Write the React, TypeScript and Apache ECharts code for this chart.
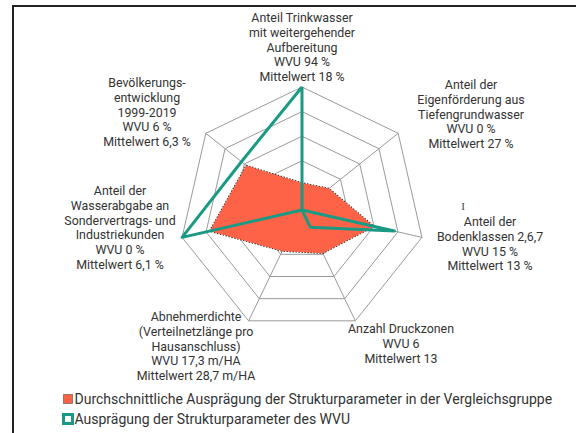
import React, { useEffect, useRef } from "react";
import * as echarts from "echarts";

// Indicators listed clockwise starting at the top
const indicatorNames = [
  "Trinkwasser",
  "Eigenförderung",
  "Bodenklassen",
  "Druckzonen",
  "Abnehmerdichte",
  "Sondervertrag",
  "Bevölkerung",
];
const indicatorLabels = [
  "Anteil Trinkwasser\nmit weitergehender\nAufbereitung\nWVU 94 %\nMittelwert 18 %",
  "Anteil der\nEigenförderung aus\nTiefengrundwasser\nWVU 0 %\nMittelwert 27 %",
  "Anteil der\nBodenklassen 2,6,7\nWVU 15 %\nMittelwert 13 %",
  "Anzahl Druckzonen\nWVU 6\nMittelwert 13",
  "Abnehmerdichte\n(Verteilnetzlänge pro\nHausanschluss)\nWVU 17,3 m/HA\nMittelwert 28,7 m/HA",
  "Anteil der\nWasserabgabe an\nSondervertrags- und\nIndustriekunden\nWVU 0 %\nMittelwert 6,1 %",
  "Bevölkerungs-\nentwicklung\n1999-2019\nWVU 6 %\nMittelwert 6,3 %",
];
// normalized values (0..1), clockwise from top
const groupAverage = [0.22, 0.28, 0.6, 0.39, 0.37, 0.77, 0.58];
const wvuValues = [1.0, 0, 0.77, 0.155, 0, 1.0, 0.63];
const seriesNames = [
  "Durchschnittliche Ausprägung der Strukturparameter in der Vergleichsgruppe",
  "Ausprägung der Strukturparameter des WVU",
];
// label anchor positions (centre x, first line y)
const labelPos: [number, number][] = [
  [302, 17],
  [471, 84],
  [490, 221],
  [401, 328],
  [196, 316],
  [120, 190],
  [147, 82],
];

const RED = "#ff6347";
const TEAL = "#1a9a84";

// ECharts places radar indicators counter-clockwise; reorder
const order = [0, 6, 5, 4, 3, 2, 1];

export default function App() {
  const ref = useRef<HTMLDivElement>(null);
  useEffect(() => {
    if (!ref.current) return;
    const chart = echarts.init(ref.current, undefined, { renderer: "svg" });
    const textEls = indicatorLabels.map((t, i) => ({
      type: "text",
      x: labelPos[i][0],
      y: labelPos[i][1] - 7,
      style: {
        text: t,
        fill: "#333",
        font: '12.4px Roboto, "Noto Sans", sans-serif',
        align: "center",
        verticalAlign: "top",
        lineHeight: 14.8,
      },
    }));
    chart.setOption({
      animation: false,
      radar: {
        center: [302, 210],
        radius: 123,
        startAngle: 90,
        shape: "polygon",
        splitNumber: 5,
        indicator: order.map((k) => ({ name: indicatorNames[k], max: 1, min: 0 })),
        axisName: { show: false },
        splitArea: { show: false },
        splitLine: { lineStyle: { color: "#9a9a9a", width: 1 } },
        axisLine: { lineStyle: { color: "#9a9a9a", width: 1 } },
      },
      legend: {
        orient: "vertical",
        left: 62,
        top: 392,
        padding: 0,
        itemGap: 6,
        itemWidth: 9,
        itemHeight: 9,
        textStyle: {
          fontSize: 14,
          color: "#333",
          fontFamily: 'Roboto, "Noto Sans", sans-serif',
          padding: [0, 0, 0, -3],
        },
        data: [
          {
            name: seriesNames[0],
            icon: "rect",
            itemStyle: { color: RED, borderColor: "#333", borderWidth: 1, borderType: "dotted" },
          },
          {
            name: seriesNames[1],
            icon: "rect",
            itemStyle: { color: "#fff", borderColor: TEAL, borderWidth: 3 },
          },
        ],
      },
      series: [
        {
          type: "radar",
          symbol: "none",
          data: [
            {
              name: seriesNames[0],
              value: order.map((k) => groupAverage[k]),
              areaStyle: { color: RED, opacity: 1 },
              lineStyle: { color: "#222", width: 1.5, type: "dotted" },
              itemStyle: { color: RED },
            },
          ],
        },
        {
          type: "radar",
          symbol: "none",
          data: [
            {
              name: seriesNames[1],
              value: order.map((k) => wvuValues[k]),
              lineStyle: { color: TEAL, width: 3 },
              itemStyle: { color: TEAL },
            },
          ],
        },
      ],
      graphic: [
        {
          type: "rect",
          shape: { x: 13, y: 6, width: 620, height: 480 },
          style: { fill: "none", stroke: "#222", lineWidth: 2 },
        },
        ...textEls,
        {
          type: "text",
          x: 463,
          y: 200,
          style: { text: "I", fill: "#444", font: "11px serif", align: "center" },
        },
      ],
    });
    return () => chart.dispose();
  }, []);
  return (
    <div
      ref={ref}
      style={{ position: "absolute", left: 0, top: 0, width: 576, height: 433, background: "#fff" }}
    />
  );
}
